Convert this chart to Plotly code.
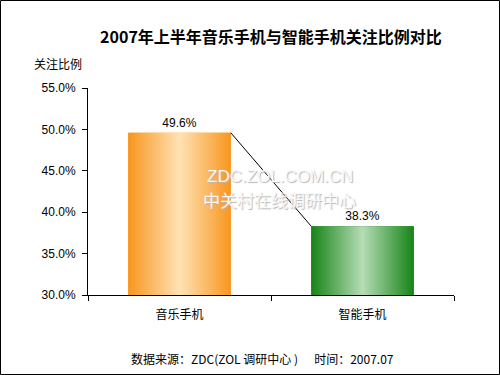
import plotly.graph_objects as go

# ---- data ----
title_text = "2007年上半年音乐手机与智能手机关注比例对比"
categories = ["音乐手机", "智能手机"]
values = [49.6, 38.3]
value_labels = ["49.6%", "38.3%"]
y_ticks = [30, 35, 40, 45, 50, 55]
y_tick_labels = ["30.0%", "35.0%", "40.0%", "45.0%", "50.0%", "55.0%"]
y_axis_title = "关注比例"
footer_text = "数据来源：ZDC(ZOL 调研中心 )      时间：2007.07"
watermark_1 = "ZDC.ZOL.COM.CN"
watermark_2 = "中关村在线调研中心"

edge_colors = ["#F8961E", "#168416"]
center_colors = ["#FFE2B4", "#B6DCB6"]

BAR_W = 0.56
CJK = "Noto Sans CJK SC, Noto Sans, sans-serif"
LAT = "Liberation Sans, Arial, sans-serif"

# layout geometry (pixels)
W, H = 500, 375
L, R, T, B = 88, 46, 88, 80
pw, ph = W - L - R, H - T - B

fig = go.Figure()

# base bars on category axis (with labels)
fig.add_trace(go.Bar(
    x=categories, y=values, width=BAR_W,
    marker=dict(color=edge_colors, line=dict(width=0)),
    text=value_labels, textposition="outside", cliponaxis=False,
    textfont=dict(family=LAT, size=12, color="black"),
    showlegend=False, hoverinfo="x+y",
))

# gradient overlays on an overlaying linear axis (index positions)
for i, v in enumerate(values):
    x0, x1 = i - BAR_W / 2, i + BAR_W / 2
    fig.add_trace(go.Scatter(
        x=[x0, x1, x1, x0, x0], y=[30, 30, v, v, 30],
        xaxis="x2", mode="lines", line=dict(width=0),
        fill="toself",
        fillgradient=dict(
            type="horizontal", start=x0, stop=x1,
            colorscale=[[0, edge_colors[i]], [0.5, center_colors[i]], [1, edge_colors[i]]],
        ),
        showlegend=False, hoverinfo="skip",
    ))

# connector line between bar tops
fig.add_trace(go.Scatter(
    x=[0 + BAR_W / 2, 1 - BAR_W / 2], y=[values[0], values[1]],
    xaxis="x2", mode="lines", line=dict(color="black", width=1),
    showlegend=False, hoverinfo="skip",
))

def px_to_paper_x(px):
    return (px - L) / pw

def px_to_paper_y(py):
    return (H - B - py) / ph

annotations = [
    dict(text=y_axis_title, xref="paper", yref="paper", xanchor="center", yanchor="middle",
         x=px_to_paper_x(58), y=px_to_paper_y(64), showarrow=False,
         font=dict(family=CJK, size=12, color="black")),
    dict(text=footer_text, xref="paper", yref="paper", xanchor="center", yanchor="middle",
         x=px_to_paper_x(262), y=px_to_paper_y(358), showarrow=False,
         font=dict(family=CJK, size=12, color="black")),
    dict(text=watermark_1, xref="paper", yref="paper", xanchor="center", yanchor="middle",
         x=px_to_paper_x(280), y=px_to_paper_y(176), showarrow=False,
         font=dict(family=LAT, size=17, color="#f8f8f8",
                   shadow="1px 1px 1px #b4b4b4")),
    dict(text=watermark_2, xref="paper", yref="paper", xanchor="center", yanchor="middle",
         x=px_to_paper_x(279), y=px_to_paper_y(199), showarrow=False,
         font=dict(family=CJK, size=17, color="#f8f8f8",
                   shadow="1px 1px 1px #b4b4b4")),
]

fig.update_layout(
    width=W, height=H,
    margin=dict(l=L, r=R, t=T, b=B, pad=0),
    paper_bgcolor="white", plot_bgcolor="white",
    title=dict(text="<b>" + title_text + "</b>", x=0.5, xref="paper",
               y=1 - 37 / H, yref="container", yanchor="middle", xanchor="center",
               font=dict(family=CJK, size=16, color="black")),
    bargap=1 - BAR_W,
    xaxis=dict(type="category", range=[-0.5, 1.5], showline=True, linecolor="black",
               linewidth=1, ticks="outside", tickson="boundaries", ticklen=5,
               tickcolor="black", showgrid=False, zeroline=False, ticklabelstandoff=9,
               tickfont=dict(family=CJK, size=12, color="black")),
    xaxis2=dict(overlaying="x", range=[-0.5, 1.5], visible=False, type="linear"),
    yaxis=dict(range=[30, 55], tickvals=y_ticks, ticktext=y_tick_labels,
               showline=True, linecolor="black", linewidth=1, ticks="outside",
               ticklen=5, tickcolor="black", showgrid=False, zeroline=False,
               ticklabelstandoff=4,
               tickfont=dict(family=LAT, size=12, color="black")),
    annotations=annotations,
    shapes=[dict(type="rect", xref="paper", yref="paper",
                 x0=px_to_paper_x(0.5), x1=px_to_paper_x(W - 0.5),
                 y0=px_to_paper_y(H - 0.5), y1=px_to_paper_y(0.5),
                 line=dict(color="black", width=1), fillcolor="rgba(0,0,0,0)")],
)

fig.write_html("out.html", config={"displayModeBar": False},
               post_script="document.body.style.margin='0';document.body.style.padding='0';")
